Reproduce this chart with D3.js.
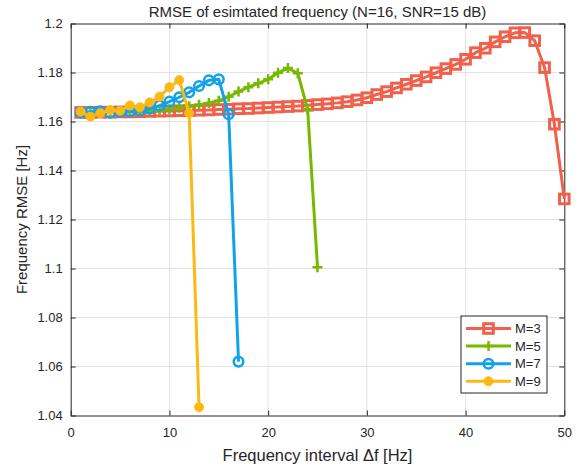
<!DOCTYPE html>
<html>
<head>
<meta charset="utf-8">
<script src="https://cdn.jsdelivr.net/npm/d3@7"></script>
<style>
  body { margin: 0; background: #fff; }
  text { font-family: Arial, "Liberation Sans", Helvetica, sans-serif; fill: #262626; }
</style>
</head>
<body>
<div id="chart"></div>
<script>
// data
var m3x = d3.range(1, 51);
var m3y = [1.1637, 1.1637, 1.1638, 1.1638, 1.1639, 1.1639, 1.1640, 1.1641, 1.1642, 1.1643,
           1.1644, 1.1645, 1.1646, 1.1647, 1.1649, 1.1650, 1.1652, 1.1653, 1.1655, 1.1657,
           1.1659, 1.1661, 1.1663, 1.1666, 1.1669, 1.1672, 1.1676, 1.1681, 1.1688, 1.1697,
           1.1710, 1.1722, 1.1737, 1.1752, 1.1767, 1.1782, 1.1799, 1.1816, 1.1833, 1.1854,
           1.1881, 1.1899, 1.1925, 1.1946, 1.1962, 1.1963, 1.1930, 1.1820, 1.1589, 1.1284];

var m5x = d3.range(1, 26);
var m5y = [1.1637, 1.1638, 1.1638, 1.1639, 1.1640, 1.1641, 1.1642, 1.1643, 1.1646, 1.1650,
           1.1656, 1.1662, 1.1668, 1.1676, 1.1685, 1.1701, 1.1722, 1.1740, 1.1756, 1.1772,
           1.1799, 1.1818, 1.1797, 1.1650, 1.1005];

var m7x = d3.range(1, 18);
var m7y = [1.1637, 1.1640, 1.1642, 1.1636, 1.1640, 1.1642, 1.1645, 1.1652, 1.1665, 1.1681,
           1.1699, 1.1719, 1.1745, 1.1768, 1.1772, 1.1630, 1.0620];

var m9x = d3.range(1, 14);
var m9y = [1.1640, 1.1620, 1.1634, 1.1647, 1.1644, 1.1665, 1.1658, 1.1678, 1.1701, 1.1740,
           1.1769, 1.1634, 1.0434];

var xTicks = [0, 10, 20, 30, 40, 50];
var yTicks = [1.04, 1.06, 1.08, 1.1, 1.12, 1.14, 1.16, 1.18, 1.2];

var series = [
  { name: "M=3", xs: m3x, ys: m3y, color: "#f0604b", marker: "square" },
  { name: "M=5", xs: m5x, ys: m5y, color: "#77b900", marker: "plus" },
  { name: "M=7", xs: m7x, ys: m7y, color: "#10a2ea", marker: "circle" },
  { name: "M=9", xs: m9x, ys: m9y, color: "#fdb813", marker: "dot" }
];

var svgWidth = 585, svgHeight = 468;
var margin = { top: 23.5, right: 20.7, bottom: 52.5, left: 70.7 };
var width = svgWidth - margin.left - margin.right;
var height = svgHeight - margin.top - margin.bottom;

var svg = d3.select("#chart").append("svg")
  .attr("width", svgWidth)
  .attr("height", svgHeight);

var chartGroup = svg.append("g")
  .attr("transform", `translate(${margin.left}, ${margin.top})`);

var x = d3.scaleLinear().domain([0, 50]).range([0, width]);
var y = d3.scaleLinear().domain([1.04, 1.2]).range([height, 0]);

// grid
chartGroup.append("g").selectAll("line").data(xTicks.slice(1, -1)).enter().append("line")
  .attr("x1", d => x(d)).attr("x2", d => x(d))
  .attr("y1", 0).attr("y2", height)
  .attr("stroke", "#e3e3e3").attr("stroke-width", 1);
chartGroup.append("g").selectAll("line").data(yTicks.slice(1, -1)).enter().append("line")
  .attr("y1", d => y(d)).attr("y2", d => y(d))
  .attr("x1", 0).attr("x2", width)
  .attr("stroke", "#e3e3e3").attr("stroke-width", 1);

// axes (ticks pointing inward, box on)
function styleAxis(g) {
  g.select(".domain").attr("stroke", "#262626");
  g.selectAll(".tick line").attr("stroke", "#262626");
  g.selectAll(".tick text").attr("font-size", "13px").attr("fill", "#262626")
    .attr("font-family", "Arial, 'Liberation Sans', sans-serif");
}
var fmtY = d => d3.format("")(+d.toFixed(2));

chartGroup.append("g")
  .attr("transform", `translate(0, ${height})`)
  .call(d3.axisBottom(x).tickValues(xTicks).tickSizeInner(-5).tickSizeOuter(0).tickPadding(12))
  .call(styleAxis);
chartGroup.append("g")
  .call(d3.axisTop(x).tickValues(xTicks).tickSizeInner(-5).tickSizeOuter(0).tickFormat(""))
  .call(styleAxis);
chartGroup.append("g")
  .call(d3.axisLeft(y).tickValues(yTicks).tickSizeInner(-5).tickSizeOuter(0).tickPadding(8).tickFormat(fmtY))
  .call(styleAxis);
chartGroup.append("g")
  .attr("transform", `translate(${width}, 0)`)
  .call(d3.axisRight(y).tickValues(yTicks).tickSizeInner(-5).tickSizeOuter(0).tickFormat(""))
  .call(styleAxis);

// markers
function drawMarker(g, type, color) {
  if (type === "square") {
    g.append("rect").attr("x", -4.8).attr("y", -4.8).attr("width", 9.6).attr("height", 9.6)
      .attr("fill", "none").attr("stroke", color).attr("stroke-width", 3);
  } else if (type === "plus") {
    g.append("path").attr("d", "M-5,0H5M0,-5V5")
      .attr("stroke", color).attr("stroke-width", 2.5);
  } else if (type === "circle") {
    g.append("circle").attr("r", 4.8)
      .attr("fill", "none").attr("stroke", color).attr("stroke-width", 2.5);
  } else {
    g.append("circle").attr("r", 4.5).attr("fill", color).attr("stroke", color).attr("stroke-width", 1);
  }
}

var line = d3.line().x(d => x(d[0])).y(d => y(d[1]));

series.forEach(function(s) {
  var pts = s.xs.map((v, i) => [v, s.ys[i]]);
  var g = chartGroup.append("g");
  g.append("path")
    .datum(pts)
    .attr("d", line)
    .attr("fill", "none")
    .attr("stroke", s.color)
    .attr("stroke-width", 3)
    .attr("stroke-linejoin", "round");
  g.selectAll(".mk").data(pts).enter().append("g")
    .attr("transform", d => `translate(${x(d[0])}, ${y(d[1])})`)
    .each(function() { drawMarker(d3.select(this), s.marker, s.color); });
});

// legend
var legend = svg.append("g").attr("transform", "translate(461, 316)");
legend.append("rect").attr("width", 86).attr("height", 77)
  .attr("fill", "#fff").attr("stroke", "#262626").attr("stroke-width", 1);
series.forEach(function(s, i) {
  var row = legend.append("g").attr("transform", `translate(0, ${12.5 + i * 17.6})`);
  row.append("line").attr("x1", 5).attr("x2", 50).attr("stroke", s.color).attr("stroke-width", 3);
  var mk = row.append("g").attr("transform", "translate(27.5, 0)");
  drawMarker(mk, s.marker, s.color);
  row.append("text").attr("x", 54).attr("dy", "0.36em").attr("font-size", "13px").text(s.name);
});

// title and labels
svg.append("text")
  .attr("x", margin.left + width / 2).attr("y", 17)
  .attr("text-anchor", "middle").attr("font-size", "15px")
  .text("RMSE of esimtated frequency (N=16, SNR=15 dB)");

svg.append("text")
  .attr("x", margin.left + width / 2).attr("y", 461)
  .attr("text-anchor", "middle").attr("font-size", "16.5px")
  .text("Frequency interval \u0394f [Hz]");

svg.append("text")
  .attr("transform", `translate(27, ${margin.top + height / 2}) rotate(-90)`)
  .attr("text-anchor", "middle").attr("font-size", "15px")
  .text("Frequency RMSE [Hz]");
</script>
</body>
</html>
